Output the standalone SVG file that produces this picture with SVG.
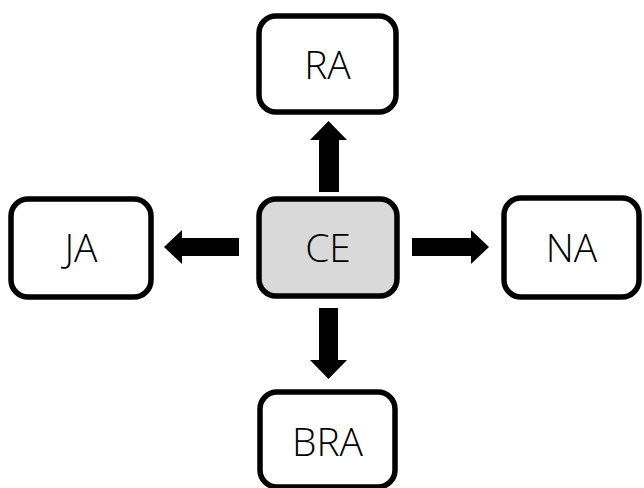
<svg xmlns="http://www.w3.org/2000/svg" width="644" height="488" viewBox="0 0 644 488">
<style>
.box{fill:#ffffff;stroke:#000000;stroke-width:5.5}
.ce{fill:#d9d9d9}
.lbl{font-family:"Open Sans","Liberation Sans",sans-serif;font-weight:300;font-size:39px;fill:#000000;text-anchor:middle}
.arr{fill:#000000}
</style>
<rect width="644" height="488" fill="#ffffff"/>
<g id="connectors">
<polygon class="arr" points="319,192 319,140 310,140 328.5,121 347,140 339,140 339,192"/>
<polygon class="arr" points="319,308 319,360 310,360 328.5,379 347,360 338,360 338,308"/>
<polygon class="arr" points="239,238 182,238 182,230 164,247 182,264 182,256 239,256"/>
<polygon class="arr" points="412,238 471,238 471,230 489,247 471,264 471,256 412,256"/>
</g>
<g id="RA">
<rect class="box" x="259" y="16" width="137" height="96" rx="17"/>
<text class="lbl" x="327.5" y="79">RA</text>
</g>
<g id="CE">
<rect class="box ce" x="259" y="199" width="138" height="97" rx="17"/>
<text class="lbl" x="328" y="262">CE</text>
</g>
<g id="JA">
<rect class="box" x="11" y="199" width="140" height="98" rx="17"/>
<text class="lbl" x="81" y="262">JA</text>
</g>
<g id="NA">
<rect class="box" x="504" y="198" width="135" height="99" rx="17"/>
<text class="lbl" x="571.5" y="262">NA</text>
</g>
<g id="BRA">
<rect class="box" x="260" y="392" width="135" height="95" rx="17"/>
<text class="lbl" x="327.5" y="456">BRA</text>
</g>
</svg>
